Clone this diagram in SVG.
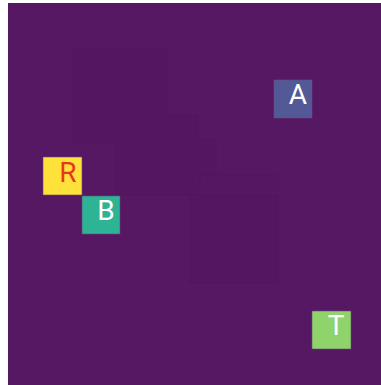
<svg xmlns="http://www.w3.org/2000/svg" width="381" height="385" viewBox="0 0 381 385">
<style>
.bg{fill:#561763}
.faint{fill:#54155f;stroke:#50135b;stroke-width:1}
.node rect{stroke:#6a4a7a;stroke-width:0.6}
.lbl{font-family:Roboto,"Open Sans","Liberation Sans",sans-serif;font-size:28px;text-anchor:middle}
</style>
<rect x="8" y="3" width="373" height="382" fill="#3a2c3e"/>
<rect class="bg" x="8" y="4" width="373" height="381"/>
<g id="faint-regions">
<path class="faint" d="M73 49 H167 V115 H198 V140 H216 V175 H200 V195 H116 V143 H73 Z" opacity="0.3"/>
<rect class="faint" x="190" y="195" width="88" height="88" opacity="0.3"/>
<rect class="faint" x="200" y="175" width="78" height="15" opacity="0.2"/>
</g>
<g id="connectors"></g>
<g id="node-A" class="node">
<rect x="274" y="80" width="38" height="38" fill="#535997"/>
<text class="lbl" x="298" y="104" fill="#ffffff">A</text>
</g>
<g id="node-R" class="node">
<rect x="43" y="157" width="39" height="38" fill="#fee23a"/>
<text class="lbl" x="68" y="182" fill="#e8361f">R</text>
</g>
<g id="node-B" class="node">
<rect x="82" y="196" width="38" height="38" fill="#2db495"/>
<text class="lbl" x="106" y="220" fill="#ffffff">B</text>
</g>
<g id="node-T" class="node">
<rect x="312" y="311" width="39" height="38" fill="#8ed46a"/>
<text class="lbl" x="336" y="335" fill="#ffffff">T</text>
</g>
</svg>
